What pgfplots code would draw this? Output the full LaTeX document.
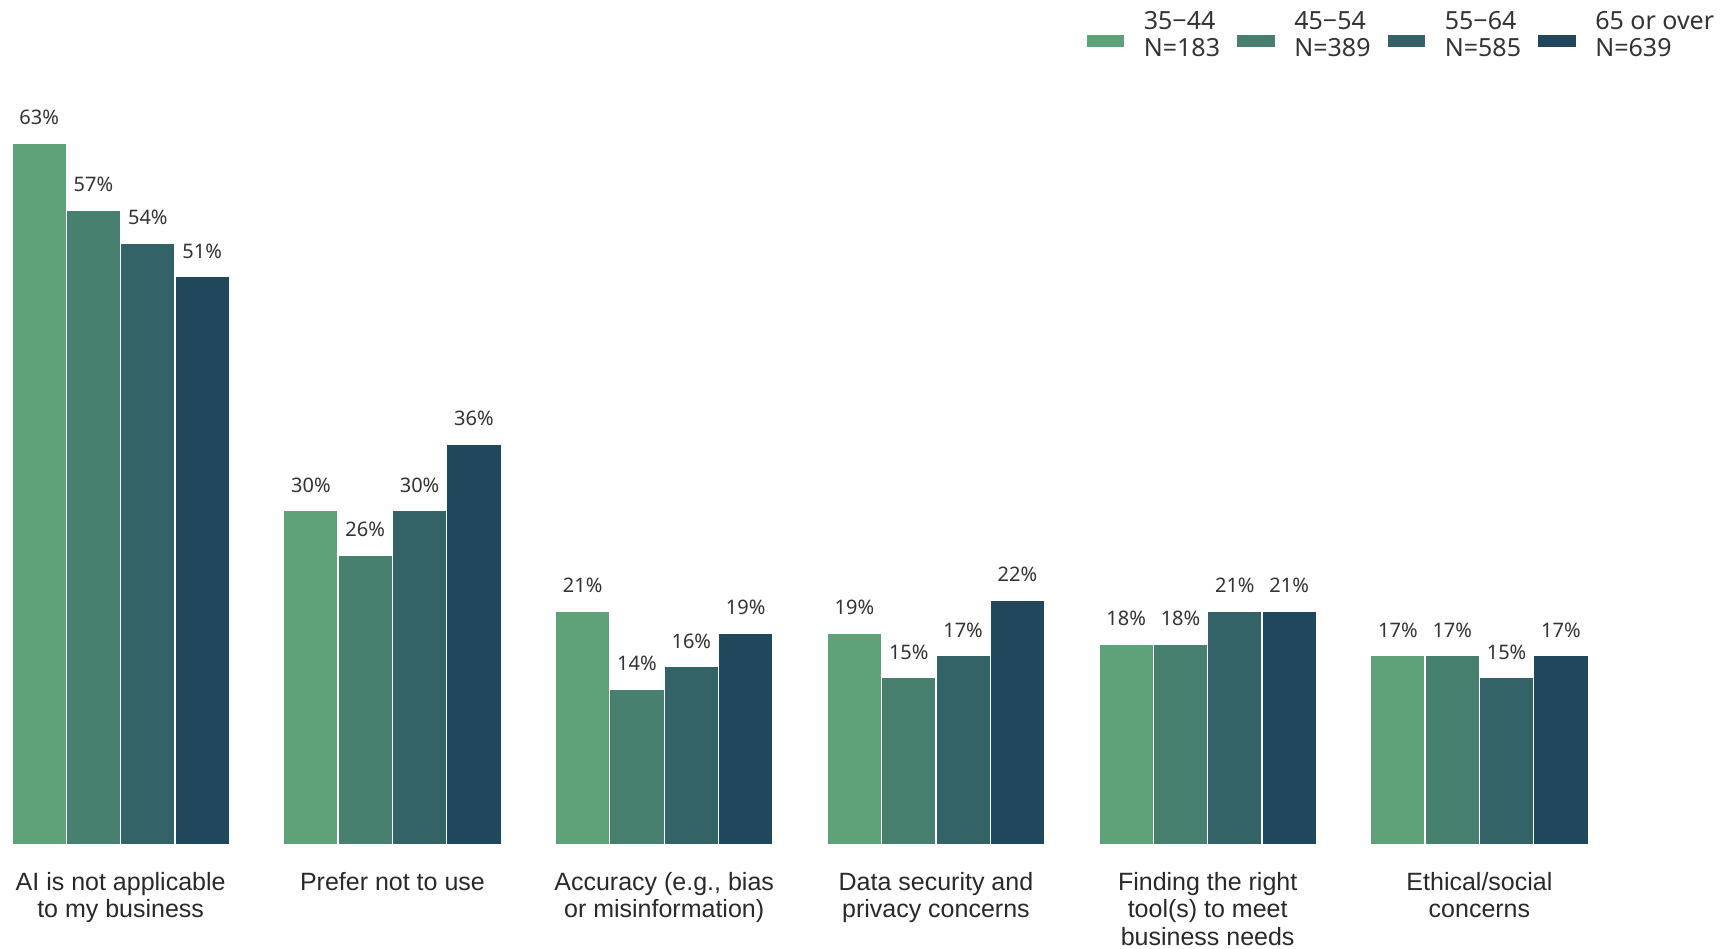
\documentclass[border=0pt]{standalone}
\usepackage{pgfplots}
\pgfplotsset{compat=1.18}
\usepackage{fontspec}
\setmainfont{Liberation Sans}
\newfontfamily\noto{Noto Sans}
\definecolor{c1}{HTML}{5FA27A}
\definecolor{c2}{HTML}{47806E}
\definecolor{c3}{HTML}{336366}
\definecolor{c4}{HTML}{21475C}
\definecolor{txt}{HTML}{333333}
\begin{document}
\begin{tikzpicture}
\begin{axis}[
  scale only axis, width=862pt, height=422.5pt,
  xmin=-0.444, xmax=5.90, ymin=0, ymax=75.85,
  axis line style={draw=none}, tick style={draw=none},
  major tick length=0pt,
  ytick=\empty,
  xtick={0,1,2,3,4,5},
  xticklabels={{AI is not applicable\\to my business},{Prefer not to use},{Accuracy (e.g., bias\\or misinformation)},{Data security and\\privacy concerns},{Finding the right\\tool(s) to meet\\business needs},{Ethical/social\\concerns}},
  xticklabel style={font=\fontsize{12.5}{13.7}\selectfont, align=center, anchor=north, inner sep=0pt, yshift=-13.5pt, text=txt!80!black},
  ybar=0pt, bar width=0.2,
  every axis plot/.append style={draw=white, line width=0.6pt},
  /pgf/number format/assume math mode=true,
  nodes near coords={\pgfmathprintnumber[fixed,precision=0]{\pgfplotspointmeta}\%},
  nodes near coords style={font=\noto\fontsize{10}{12}\selectfont, anchor=base, yshift=9.3pt, inner sep=0pt, text=txt},
  legend columns=4,
  legend style={draw=none, fill=none, at={(rel axis cs:0.998,0.992)}, anchor=north east,
    font=\noto\fontsize{12.5}{13.7}\selectfont, text=txt,
    nodes={align=left, inner sep=0pt},
    /tikz/every odd column/.append style={column sep=9.3pt},
    /tikz/every even column/.append style={column sep=8pt}},
  legend image code/.code={\fill[#1] (0pt,-6pt) rectangle (19.25pt,0.6pt);},
  after end axis/.code={\path (rel axis cs:0,0) ++(0pt,-51.5pt);},
]
\addplot[fill=c1] coordinates {(0,63) (1,30) (2,21) (3,19) (4,18) (5,17)};
\addplot[fill=c2] coordinates {(0,57) (1,26) (2,14) (3,15) (4,18) (5,17)};
\addplot[fill=c3] coordinates {(0,54) (1,30) (2,16) (3,17) (4,21) (5,15)};
\addplot[fill=c4] coordinates {(0,51) (1,36) (2,19) (3,22) (4,21) (5,17)};
\legend{{35−44\\N=183},{45−54\\N=389},{55−64\\N=585},{65 or over\\N=639}}
\end{axis}
\end{tikzpicture}
\end{document}
